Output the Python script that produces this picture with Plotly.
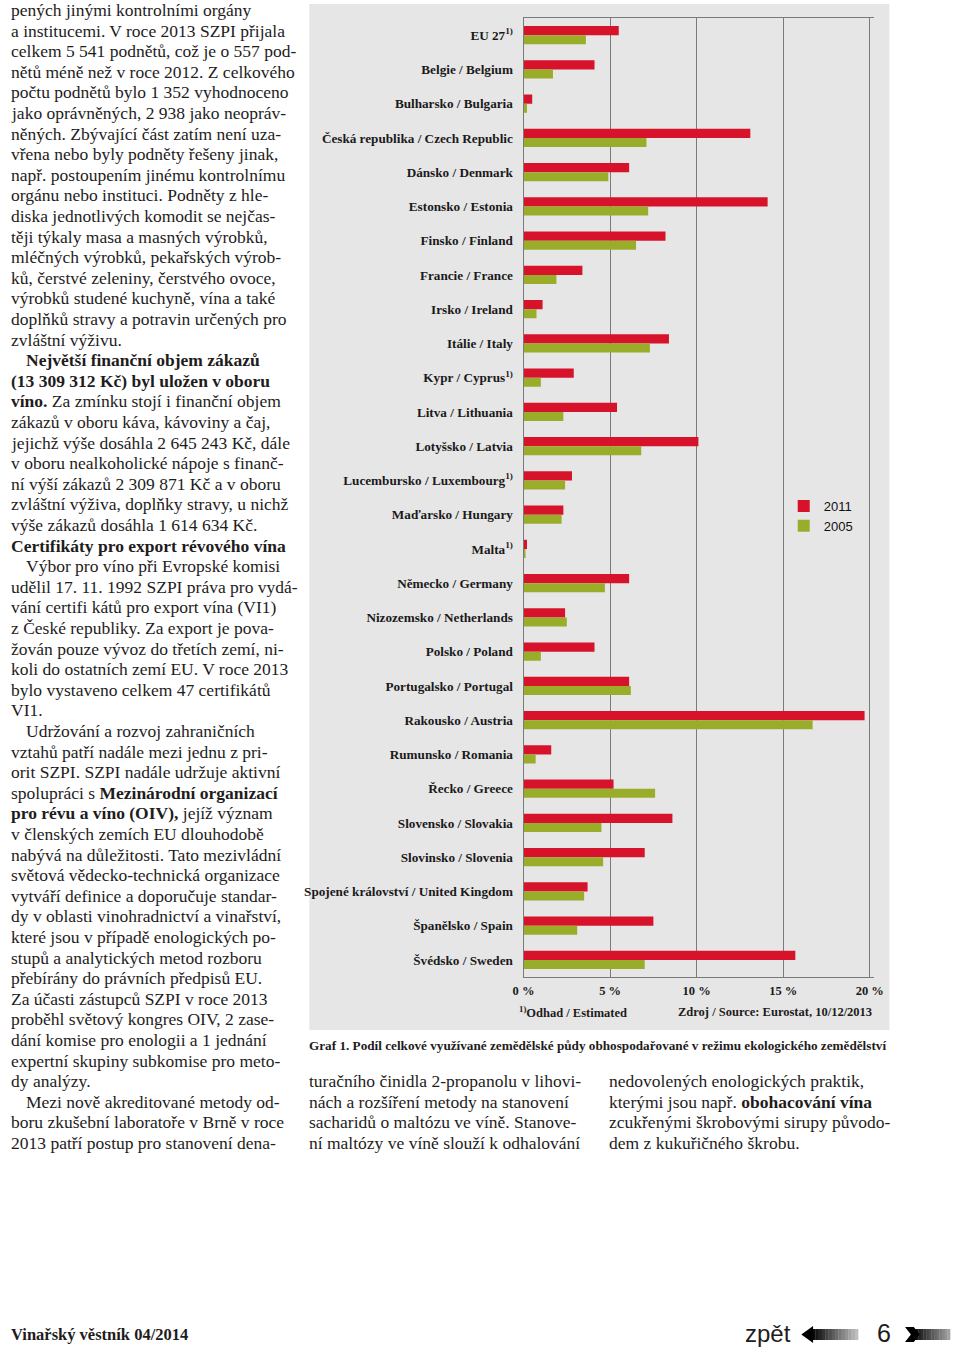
import plotly.graph_objects as go

W, H = 960, 1349


def px(x):
    return x / W


def py(y):
    return 1 - y / H


# ---------------- data ----------------
countries = [
    "EU 27<sup>1)</sup>", "Belgie / Belgium", "Bulharsko / Bulgaria",
    "Česká republika / Czech Republic", "Dánsko / Denmark", "Estonsko / Estonia",
    "Finsko / Finland", "Francie / France", "Irsko / Ireland", "Itálie / Italy",
    "Kypr / Cyprus<sup>1)</sup>", "Litva / Lithuania", "Lotyšsko / Latvia",
    "Lucembursko / Luxembourg<sup>1)</sup>", "Maďarsko / Hungary", "Malta<sup>1)</sup>",
    "Německo / Germany", "Nizozemsko / Netherlands", "Polsko / Poland",
    "Portugalsko / Portugal", "Rakousko / Austria", "Rumunsko / Romania",
    "Řecko / Greece", "Slovensko / Slovakia", "Slovinsko / Slovenia",
    "Spojené království / United Kingdom", "Španělsko / Spain", "Švédsko / Sweden",
]
v2011 = [5.5, 4.1, 0.5, 13.1, 6.1, 14.1, 8.2, 3.4, 1.1, 8.4, 2.9, 5.4, 10.1, 2.8,
         2.3, 0.2, 6.1, 2.4, 4.1, 6.1, 19.7, 1.6, 5.2, 8.6, 7.0, 3.7, 7.5, 15.7]
v2005 = [3.6, 1.7, 0.2, 7.1, 4.9, 7.2, 6.5, 1.9, 0.75, 7.3, 1.0, 2.3, 6.8, 2.4,
         2.2, 0.1, 4.7, 2.5, 1.0, 6.2, 16.7, 0.7, 7.6, 4.5, 4.6, 3.5, 3.1, 7.0]
tick_vals = [0, 5, 10, 15, 20]
tick_text = ["0 %", "5 %", "10 %", "15 %", "20 %"]

left_col = [
    (0, "pených jinými kontrolními orgány"),
    (0, "a institucemi. V roce 2013 SZPI přijala"),
    (0, "celkem 5 541 podnětů, což je o 557 pod-"),
    (0, "nětů méně než v roce 2012. Z celkového"),
    (0, "počtu podnětů bylo 1 352 vyhodnoceno"),
    (0, "jako oprávněných, 2 938 jako neopráv-"),
    (0, "něných. Zbývající část zatím není uza-"),
    (0, "vřena nebo byly podněty řešeny jinak,"),
    (0, "např. postoupením jinému kontrolnímu"),
    (0, "orgánu nebo instituci. Podněty z hle-"),
    (0, "diska jednotlivých komodit se nejčas-"),
    (0, "těji týkaly masa a masných výrobků,"),
    (0, "mléčných výrobků, pekařských výrob-"),
    (0, "ků, čerstvé zeleniny, čerstvého ovoce,"),
    (0, "výrobků studené kuchyně, vína a také"),
    (0, "doplňků stravy a potravin určených pro"),
    (0, "zvláštní výživu."),
    (15, "<b>Největší finanční objem zákazů</b>"),
    (0, "<b>(13 309 312 Kč) byl uložen v oboru</b>"),
    (0, "<b>víno.</b> Za zmínku stojí i finanční objem"),
    (0, "zákazů v oboru káva, kávoviny a čaj,"),
    (0, "jejichž výše dosáhla 2 645 243 Kč, dále"),
    (0, "v oboru nealkoholické nápoje s finanč-"),
    (0, "ní výší zákazů 2 309 871 Kč a v oboru"),
    (0, "zvláštní výživa, doplňky stravy, u nichž"),
    (0, "výše zákazů dosáhla 1 614 634 Kč."),
    (0, "<b>Certifikáty pro export révového vína</b>"),
    (15, "Výbor pro víno při Evropské komisi"),
    (0, "udělil 17. 11. 1992 SZPI práva pro vydá-"),
    (0, "vání certifi kátů pro export vína (VI1)"),
    (0, "z České republiky. Za export je pova-"),
    (0, "žován pouze vývoz do třetích zemí, ni-"),
    (0, "koli do ostatních zemí EU. V roce 2013"),
    (0, "bylo vystaveno celkem 47 certifikátů"),
    (0, "VI1."),
    (15, "Udržování a rozvoj zahraničních"),
    (0, "vztahů patří nadále mezi jednu z pri-"),
    (0, "orit SZPI. SZPI nadále udržuje aktivní"),
    (0, "spolupráci s <b>Mezinárodní organizací</b>"),
    (0, "<b>pro révu a víno (OIV),</b> jejíž význam"),
    (0, "v členských zemích EU dlouhodobě"),
    (0, "nabývá na důležitosti. Tato mezivládní"),
    (0, "světová vědecko-technická organizace"),
    (0, "vytváří definice a doporučuje standar-"),
    (0, "dy v oblasti vinohradnictví a vinařství,"),
    (0, "které jsou v případě enologických po-"),
    (0, "stupů a analytických metod rozboru"),
    (0, "přebírány do právních předpisů EU."),
    (0, "Za účasti zástupců SZPI v roce 2013"),
    (0, "proběhl světový kongres OIV, 2 zase-"),
    (0, "dání komise pro enologii a 1 jednání"),
    (0, "expertní skupiny subkomise pro meto-"),
    (0, "dy analýzy."),
    (15, "Mezi nově akreditované metody od-"),
    (0, "boru zkušební laboratoře v Brně v roce"),
    (0, "2013 patří postup pro stanovení dena-"),
]
mid_col = [
    "turačního činidla 2-propanolu v lihovi-",
    "nách a rozšíření metody na stanovení",
    "sacharidů o maltózu ve víně. Stanove-",
    "ní maltózy ve víně slouží k odhalování",
]
right_col = [
    "nedovolených enologických praktik,",
    "kterými jsou např. <b>obohacování vína</b>",
    "zcukřenými škrobovými sirupy původo-",
    "dem z kukuřičného škrobu.",
]

RED = "#d7132b"
GREEN = "#9aad2a"
SERIF = "Liberation Serif"
TXT = "#1e1c1c"
BODY = 17.5

fig = go.Figure()
fig.add_trace(go.Bar(y=countries, x=v2011, orientation="h", name="2011",
                     marker=dict(color=RED, line=dict(width=0))))
fig.add_trace(go.Bar(y=countries, x=v2005, orientation="h", name="2005",
                     marker=dict(color=GREEN, line=dict(width=0))))

shapes = [
    dict(type="rect", xref="paper", yref="paper", x0=px(305), x1=px(898),
         y0=py(1030), y1=py(4), fillcolor="#e7e6e6", line=dict(width=0), layer="below"),
]

# footer arrows (decorative)
n = 14
x0, x1 = 819, 866
for i in range(n):
    a = x0 + (x1 - x0) * i / n
    b = x0 + (x1 - x0) * (i + 1) / n
    g = int(10 + 180 * i / (n - 1))
    shapes.append(dict(type="rect", xref="paper", yref="paper", x0=px(a), x1=px(b + 0.3),
                       y0=py(1340), y1=py(1329), fillcolor=f"rgb({g},{g},{g})",
                       line=dict(width=0)))
shapes.append(dict(type="path", xref="paper", yref="paper",
                   path=f"M {px(808)} {py(1334.5)} L {px(820)} {py(1326)} L {px(820)} {py(1343)} Z",
                   fillcolor="#000", line=dict(width=0)))
x0, x1 = 922, 960
for i in range(n):
    a = x0 + (x1 - x0) * i / n
    b = x0 + (x1 - x0) * (i + 1) / n
    g = int(10 + 150 * i / (n - 1))
    shapes.append(dict(type="rect", xref="paper", yref="paper", x0=px(a), x1=px(b + 0.3),
                       y0=py(1340), y1=py(1329), fillcolor=f"rgb({g},{g},{g})",
                       line=dict(width=0)))
shapes.append(dict(type="path", xref="paper", yref="paper",
                   path=(f"M {px(914)} {py(1327)} L {px(923)} {py(1327)} L {px(929)} {py(1334.5)} "
                         f"L {px(923)} {py(1342)} L {px(914)} {py(1342)} L {px(920)} {py(1334.5)} Z"),
                   fillcolor="#000", line=dict(width=0)))

annotations = []


def add_text(x, y, text, size=BODY, family=SERIF, color=TXT, xanchor="left"):
    annotations.append(dict(x=px(x), y=py(y), xref="paper", yref="paper", text=text,
                            showarrow=False, xanchor=xanchor, yanchor="middle",
                            borderpad=0,
                            font=dict(family=family, size=size, color=color)))


for i, (ind, line) in enumerate(left_col):
    add_text(ind - 1, 10 + i * 20.6, line)
for i, line in enumerate(mid_col):
    add_text(304, 1081 + i * 20.6, line)
for i, line in enumerate(right_col):
    add_text(610, 1081 + i * 20.6, line)

add_text(518, 1012, "<b><sup>1)</sup>Odhad / Estimated</b>", size=12.5)
add_text(881, 1012, "<b>Zdroj / Source: Eurostat, 10/12/2013</b>", size=12.5, xanchor="right")
add_text(304, 1045, "<b>Graf 1. Podíl celkové využívané zemědělské půdy obhospodařované "
                    "v režimu ekologického zemědělství</b>", size=13.2)
add_text(-1, 1334, "<b>Vinařský věstník 04/2014</b>", size=16.5)
add_text(749, 1333, "zpět", size=24, family="Liberation Sans Narrow, Liberation Sans")
add_text(884, 1333, "6", size=25, family="Liberation Sans Narrow, Liberation Sans")

fig.update_layout(
    width=W, height=H,
    margin=dict(l=0, r=0, t=0, b=0),
    paper_bgcolor="white",
    plot_bgcolor="rgba(0,0,0,0)",
    barmode="group", bargap=0.46, bargroupgap=0,
    showlegend=True,
    legend=dict(x=px(790), y=py(491), xanchor="left", yanchor="top",
                bgcolor="rgba(0,0,0,0)", itemwidth=30, tracegroupgap=0,
                font=dict(family="Liberation Sans", size=13, color="#111")),
    xaxis=dict(domain=[px(524), px(882.4)], range=[0, 20.25],
               tickvals=tick_vals, ticktext=tick_text, ticks="",
               showgrid=True, gridcolor="#7a7a7a", gridwidth=1,
               showline=True, mirror=True, linecolor="#7a7a7a", linewidth=1,
               zeroline=False, ticklabelstandoff=2,
               tickfont=dict(family=SERIF, size=12.5, color="#1a1a1a", weight="bold")),
    yaxis=dict(domain=[py(977), py(18)], autorange="reversed",
               showgrid=False, showline=True, linecolor="#7a7a7a", linewidth=1,
               ticks="", ticklabelstandoff=7,
               tickfont=dict(family=SERIF, size=13.2, color="#1a1a1a", weight="bold")),
    shapes=shapes,
    annotations=annotations,
)

fig.write_html("out.html", config={"displayModeBar": False, "responsive": False},
               post_script="document.documentElement.style.overflow='hidden';"
                           "document.body.style.margin='0';document.body.style.overflow='hidden';")
